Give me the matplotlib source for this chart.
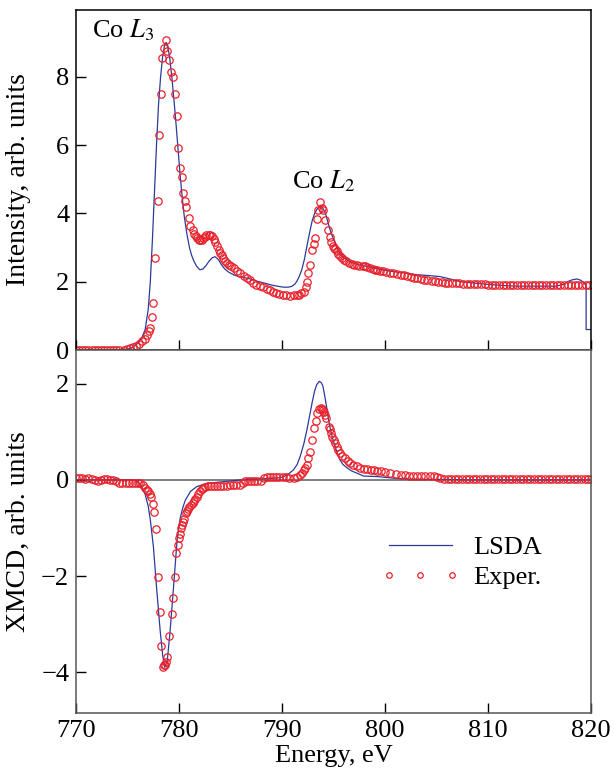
import numpy as np
import matplotlib
matplotlib.use("Agg")
import matplotlib.pyplot as plt

plt.rcParams['font.family'] = ['Liberation Serif', 'DejaVu Serif']
plt.rcParams['mathtext.fontset'] = 'stix'
plt.rcParams['font.size'] = 18

# --- top panel: XAS intensity, experiment (circles)
exp_xas_e = [770.0, 770.3, 770.6, 770.9, 771.2, 771.5, 771.8, 772.1, 772.4, 772.7,
             773.0, 773.3, 773.6, 773.9, 774.2, 774.6, 774.9, 775.2, 775.5, 775.8,
             776.1, 776.4, 776.7, 776.9, 777.05, 777.2, 777.35, 777.5, 777.7, 777.9,
             778.0, 778.2, 778.35, 778.5, 778.7, 778.85, 779.0, 779.2, 779.4, 779.55,
             779.75, 779.9, 780.1, 780.25, 780.4, 780.55, 780.7, 780.95, 781.1, 781.3,
             781.45, 781.6, 781.75, 781.9, 782.05, 782.2, 782.35, 782.5, 782.65, 782.85,
             783.0, 783.2, 783.35, 783.5, 783.65, 783.85, 784.0, 784.15, 784.3, 784.45,
             784.6, 784.8, 785.0, 785.3, 785.6, 785.95, 786.3, 786.6, 786.9, 787.2,
             787.5, 787.8, 788.1, 788.5, 788.8, 789.1, 789.4, 789.7, 790.1, 790.4,
             790.8, 791.1, 791.4, 791.6, 791.85, 792.1, 792.3, 792.4, 792.55, 792.7,
             792.9, 793.05, 793.2, 793.35, 793.5, 793.7, 793.85, 794.0, 794.2, 794.4,
             794.6, 794.75, 794.9, 795.0, 795.15, 795.3, 795.45, 795.6, 795.8, 796.0,
             796.2, 796.5, 796.8, 797.0, 797.25, 797.5, 797.8, 798.0, 798.2, 798.5,
             798.8, 799.0, 799.2, 799.5, 799.8, 800.1, 800.5, 800.8, 801.1, 801.5,
             801.8, 802.1, 802.5, 802.8, 803.1, 803.5, 803.8, 804.1, 804.5, 804.8,
             805.1, 805.5, 805.8, 806.1, 806.5, 806.85, 807.2, 807.55, 807.9, 808.25,
             808.6, 808.95, 809.3, 809.65, 810.0, 810.35, 810.7, 811.05, 811.4, 811.75,
             812.1, 812.45, 812.8, 813.15, 813.5, 813.85, 814.2, 814.55, 814.9, 815.25,
             815.6, 815.95, 816.3, 816.65, 817.0, 817.35, 817.7, 818.05, 818.4, 818.75,
             819.1, 819.45, 819.8]
exp_xas_i = [0.0, 0.0, 0.0, 0.0, 0.0, 0.0, 0.0, 0.0, 0.0, 0.0,
             0.0, 0.0, 0.0, 0.0, 0.0, 0.0, 0.02, 0.05, 0.08, 0.12,
             0.18, 0.25, 0.33, 0.45, 0.55, 0.65, 0.98, 1.38, 2.7, 4.35,
             6.3, 7.5, 8.55, 8.85, 9.07, 8.75, 8.5, 8.15, 8.0, 7.5,
             6.85, 5.9, 5.33, 5.05, 4.6, 4.35, 4.18, 3.86, 3.64, 3.5,
             3.4, 3.33, 3.27, 3.23, 3.21, 3.22, 3.28, 3.32, 3.36, 3.38,
             3.37, 3.34, 3.25, 3.15, 3.04, 2.94, 2.85, 2.78, 2.7, 2.62,
             2.55, 2.5, 2.45, 2.4, 2.32, 2.25, 2.17, 2.1, 2.05, 1.97,
             1.9, 1.86, 1.84, 1.8, 1.75, 1.71, 1.68, 1.65, 1.6, 1.6,
             1.57, 1.6, 1.6, 1.62, 1.66, 1.71, 1.85, 1.98, 2.25, 2.5,
             2.94, 3.1, 3.28, 3.82, 4.1, 4.33, 4.15, 4.1, 3.8, 3.5,
             3.3, 3.17, 3.05, 2.99, 2.95, 2.9, 2.8, 2.74, 2.68, 2.63,
             2.6, 2.56, 2.52, 2.5, 2.5, 2.47, 2.47, 2.45, 2.43, 2.41,
             2.38, 2.35, 2.33, 2.3, 2.3, 2.28, 2.26, 2.24, 2.22, 2.21,
             2.2, 2.17, 2.15, 2.12, 2.1, 2.08, 2.06, 2.05, 2.02, 2.01,
             2.0, 1.99, 1.97, 1.96, 1.96, 1.95, 1.95, 1.94, 1.94, 1.93,
             1.93, 1.93, 1.92, 1.92, 1.91, 1.91, 1.9, 1.9, 1.9, 1.9,
             1.9, 1.9, 1.9, 1.89, 1.89, 1.89, 1.89, 1.89, 1.89, 1.89,
             1.89, 1.89, 1.89, 1.89, 1.89, 1.89, 1.89, 1.89, 1.89, 1.89,
             1.89, 1.89, 1.89]

# --- top panel: LSDA theory (line)
lsda_xas_e = [770.0, 774.0, 775.0, 775.5, 776.0, 776.4, 776.7, 777.0, 777.2, 777.4,
              777.6, 777.8, 778.0, 778.2, 778.4, 778.6, 778.75, 778.9, 779.1, 779.3,
              779.5, 779.7, 779.9, 780.1, 780.3, 780.5, 780.75, 781.0, 781.2, 781.4,
              781.7, 782.0, 782.3, 782.6, 782.9, 783.2, 783.5, 783.8, 784.1, 784.4,
              784.8, 785.3, 785.8, 786.3, 786.9, 787.5, 788.0, 788.5, 789.0, 789.5,
              790.1, 790.6, 790.9, 791.2, 791.4, 791.65, 791.9, 792.15, 792.4, 792.65,
              792.9, 793.15, 793.4, 793.7, 793.9, 794.2, 794.5, 794.75, 795.0, 795.3,
              795.6, 796.0, 796.6, 797.3, 798.2, 799.2, 800.2, 801.2, 802.2, 803.2,
              804.2, 805.3, 806.3, 807.3, 808.6, 810.0, 811.8, 813.0, 816.6, 817.3,
              817.7, 818.1, 818.6, 819.0, 819.3, 819.5, 819.5, 820.0]
lsda_xas_i = [0.0, 0.0, 0.03, 0.08, 0.2, 0.38, 0.6, 1.2, 2.0, 3.2,
              4.6, 6.0, 7.2, 8.0, 8.6, 8.95, 9.0, 8.9, 8.5, 7.95,
              7.3, 6.6, 5.85, 5.1, 4.45, 3.9, 3.4, 3.0, 2.78, 2.62,
              2.45, 2.35, 2.37, 2.47, 2.6, 2.7, 2.73, 2.65, 2.5, 2.38,
              2.28, 2.2, 2.15, 2.12, 2.08, 2.02, 1.98, 1.94, 1.9, 1.87,
              1.84, 1.84, 1.86, 1.92, 2.0, 2.15, 2.35, 2.65, 3.04, 3.42,
              3.77, 4.0, 4.13, 4.2, 4.18, 4.0, 3.67, 3.42, 3.23, 3.0,
              2.83, 2.7, 2.58, 2.5, 2.45, 2.38, 2.32, 2.28, 2.24, 2.2,
              2.18, 2.15, 2.08, 2.0, 1.96, 1.92, 1.88, 1.87, 1.87, 1.92,
              2.0, 2.05, 2.08, 2.04, 1.96, 1.88, 0.6, 0.6]

# --- bottom panel: XMCD, experiment
exp_mcd_e = [770.0, 770.3, 770.6, 770.9, 771.2, 771.5, 771.8, 772.1, 772.4, 772.7,
             773.0, 773.3, 773.6, 773.9, 774.2, 774.5, 774.8, 775.1, 775.4, 775.7,
             776.0, 776.2, 776.45, 776.7, 776.85, 777.0, 777.15, 777.25, 777.45, 777.6,
             777.75, 777.9, 778.1, 778.25, 778.4, 778.5, 778.6, 778.75, 778.85, 779.05,
             779.3, 779.45, 779.6, 779.7, 779.85, 779.95, 780.1, 780.2, 780.3, 780.4,
             780.5, 780.65, 780.75, 780.9, 781.0, 781.15, 781.3, 781.4, 781.55, 781.7,
             781.85, 782.0, 782.2, 782.35, 782.5, 782.8, 783.1, 783.4, 783.7, 784.0,
             784.3, 784.6, 784.9, 785.2, 785.5, 785.9, 786.2, 786.4, 786.7, 787.0,
             787.3, 787.6, 787.9, 788.2, 788.5, 788.8, 789.1, 789.4, 789.7, 790.1,
             790.4, 790.7, 791.1, 791.4, 791.75, 791.95, 792.1, 792.25, 792.4, 792.55,
             792.7, 792.9, 793.1, 793.3, 793.4, 793.6, 793.75, 793.85, 794.0, 794.1,
             794.2, 794.3, 794.5, 794.6, 794.75, 794.85, 795.0, 795.15, 795.3, 795.45,
             795.6, 795.8, 796.1, 796.35, 796.6, 796.9, 797.25, 797.6, 797.9, 798.2,
             798.6, 798.9, 799.2, 799.6, 800.0, 800.5, 801.0, 801.5, 801.9, 802.3,
             802.7, 803.1, 803.5, 803.9, 804.3, 804.7, 805.0, 805.3, 805.7, 806.05,
             806.4, 806.75, 807.1, 807.45, 807.8, 808.15, 808.5, 808.85, 809.2, 809.55,
             809.9, 810.25, 810.6, 810.95, 811.3, 811.65, 812.0, 812.35, 812.7, 813.05,
             813.4, 813.75, 814.1, 814.45, 814.8, 815.15, 815.5, 815.85, 816.2, 816.55,
             816.9, 817.25, 817.6, 817.95, 818.3, 818.65, 819.0, 819.35, 819.7, 820.0]
exp_mcd_x = [0.03, 0.03, 0.03, 0.02, 0.03, 0.02, 0.0, -0.02, 0.0, 0.02,
             0.02, 0.0, 0.0, -0.02, -0.06, -0.06, -0.06, -0.06, -0.06, -0.06,
             -0.07, -0.07, -0.1, -0.17, -0.2, -0.24, -0.3, -0.35, -0.5, -0.67,
             -1.03, -2.01, -2.74, -3.46, -3.9, -3.85, -3.85, -3.78, -3.68, -3.24,
             -2.78, -2.45, -2.01, -1.51, -1.36, -1.2, -1.13, -1.0, -0.93, -0.87,
             -0.82, -0.69, -0.65, -0.61, -0.57, -0.52, -0.47, -0.44, -0.4, -0.35,
             -0.3, -0.24, -0.19, -0.16, -0.14, -0.13, -0.12, -0.12, -0.12, -0.12,
             -0.12, -0.12, -0.11, -0.11, -0.1, -0.1, -0.06, -0.03, -0.03, -0.03,
             -0.03, -0.03, -0.02, 0.03, 0.05, 0.05, 0.05, 0.05, 0.05, 0.05,
             0.05, 0.04, 0.03, 0.05, 0.1, 0.15, 0.2, 0.25, 0.31, 0.45,
             0.59, 0.83, 1.08, 1.22, 1.4, 1.47, 1.49, 1.48, 1.46, 1.42,
             1.35, 1.28, 1.11, 1.05, 0.97, 0.9, 0.83, 0.76, 0.69, 0.62,
             0.56, 0.5, 0.45, 0.4, 0.35, 0.31, 0.28, 0.25, 0.23, 0.22,
             0.21, 0.2, 0.19, 0.18, 0.17, 0.15, 0.12, 0.1, 0.1, 0.09,
             0.08, 0.08, 0.08, 0.08, 0.08, 0.08, 0.05, 0.03, 0.02, 0.02,
             0.02, 0.02, 0.02, 0.02, 0.02, 0.02, 0.02, 0.02, 0.02, 0.02,
             0.02, 0.02, 0.02, 0.02, 0.02, 0.02, 0.02, 0.02, 0.02, 0.02,
             0.02, 0.02, 0.02, 0.02, 0.02, 0.02, 0.02, 0.02, 0.02, 0.02,
             0.02, 0.02, 0.02, 0.02, 0.02, 0.02, 0.02, 0.02, 0.02, 0.02]

# --- bottom panel: XMCD, LSDA
lsda_mcd_e = [770.0, 775.5, 776.0, 776.4, 776.7, 777.0, 777.2, 777.5, 777.8, 778.15,
              778.4, 778.6, 778.85, 779.1, 779.45, 779.8, 780.1, 780.35, 780.6, 781.1,
              781.7, 782.7, 783.7, 784.6, 786.0, 788.0, 789.5, 790.1, 790.6, 791.1,
              791.45, 791.75, 792.1, 792.4, 792.65, 792.9, 793.15, 793.35, 793.6, 793.8,
              793.95, 794.1, 794.3, 794.45, 794.65, 794.9, 795.15, 795.35, 795.6, 795.9,
              796.3, 796.7, 797.25, 797.9, 799.2, 801.1, 803.1, 806.0, 808.0, 820.0]
lsda_mcd_x = [0.0, 0.0, -0.05, -0.15, -0.3, -0.55, -0.83, -1.39, -2.22, -3.12,
              -3.65, -3.9, -3.75, -3.19, -2.24, -1.25, -0.8, -0.58, -0.42, -0.24,
              -0.14, -0.07, -0.05, -0.03, 0.0, 0.02, 0.04, 0.06, 0.12, 0.21,
              0.32, 0.49, 0.75, 1.04, 1.32, 1.6, 1.85, 1.98, 2.05, 2.02,
              1.95, 1.78, 1.53, 1.32, 1.08, 0.86, 0.69, 0.55, 0.42, 0.32,
              0.25, 0.19, 0.14, 0.08, 0.07, 0.03, 0.01, 0.01, 0.0, 0.0]

line_color = '#2a3b9c'
dot_color = '#e8212b'

fig = plt.figure(figsize=(6.14, 7.71), dpi=100)
ax1 = fig.add_axes([0.124, 0.546, 0.839, 0.441])
ax2 = fig.add_axes([0.124, 0.075, 0.839, 0.471])

ax1.plot(lsda_xas_e, lsda_xas_i, color=line_color, lw=0.9)
ax1.plot(exp_xas_e, exp_xas_i, 'o', mfc='none', mec=dot_color, ms=5.3, mew=0.9)
ax1.set_xlim(770, 820)
ax1.set_ylim(0, 9.95)
ax1.set_yticks([0, 2, 4, 6, 8])
ax1.set_xticks([770, 780, 790, 800, 810, 820])
ax1.tick_params(labelbottom=False)
ax1.set_ylabel('Intensity, arb. units', fontsize=20)
ax1.text(771.5, 9.35, r'Co $\mathit{L}_3$', fontsize=19, va='center')
ax1.text(791.0, 4.95, r'Co $\mathit{L}_2$', fontsize=19, va='center')

ax2.axhline(0, color='#808080', lw=1.4, zorder=0)
ax2.plot(lsda_mcd_e, lsda_mcd_x, color=line_color, lw=0.9, label='LSDA')
ax2.plot(exp_mcd_e, exp_mcd_x, 'o', mfc='none', mec=dot_color, ms=5.3, mew=0.9,
         label='Exper.')
ax2.set_xlim(770, 820)
ax2.set_ylim(-4.85, 2.7)
ax2.set_yticks([-4, -2, 0, 2])
ax2.set_yticklabels(['\u22124', '\u22122', '0', '2'])
ax2.set_xticks([770, 780, 790, 800, 810, 820])
ax2.set_xlabel('Energy, eV', fontsize=19, labelpad=2)
ax2.set_ylabel('XMCD, arb. units', fontsize=20)

# same x position for both y labels (right edge of the rotated text)
ax1.yaxis.set_label_coords(-0.088, 0.5)
ax2.yaxis.set_label_coords(-0.088, 0.5)

leg = ax2.legend(loc='upper left', bbox_to_anchor=(0.545, 0.555), frameon=False,
                 numpoints=3, handlelength=3.0, handletextpad=0.5,
                 labelspacing=0.25, markerscale=0.75, fontsize=19)

for ax in (ax1, ax2):
    ax.tick_params(direction='in', length=7, width=1.0, top=False, right=False,
                   labelsize=19, pad=5)
    for s in ax.spines.values():
        s.set_linewidth(1.1)
ax1.spines['bottom'].set_color('#222222')
for s in ax2.spines.values():
    s.set_color('#555555')

fig.savefig('out.png', dpi=100)
